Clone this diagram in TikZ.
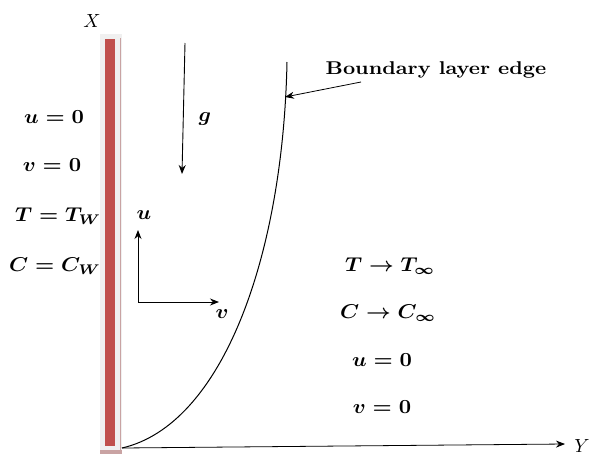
\documentclass[tikz,border=0pt]{standalone}
\usepackage{amsmath,graphicx}
\usetikzlibrary{arrows.meta}
\definecolor{wallred}{HTML}{C0504D}
\definecolor{wallgray}{HTML}{F0F0F0}
\definecolor{wallpink}{HTML}{C9A3A3}
\newcommand\mylbl[1]{\scalebox{2.15}[2.0]{\boldmath$#1$}}
\tikzset{
  lbl/.style={inner sep=0pt},
  arr/.style={-{Stealth[length=9pt,width=7pt]}, line width=0.9pt},
  curvel/.style={line width=1pt},
}
\begin{document}
\begin{tikzpicture}[x=1pt,y=-1pt]
\useasboundingbox (0,0) rectangle (614,456);
% wall
\fill[wallgray] (100,34) rectangle (122,450);
\fill[wallred] (105,39) rectangle (115,446);
\draw[wallpink, line width=1pt] (120,38) -- (120,450);
\fill[wallpink] (100,450) rectangle (122,454);
\node[lbl] (X) at (92,21) {\scalebox{1.9}{$X$}};
% coordinates
\coordinate (O) at (122,448);
\coordinate (Yend) at (565,444);
\coordinate (top) at (287,62);
\coordinate (g1) at (185,43);
\coordinate (g2) at (182,174);
\coordinate (utip) at (138,230);
\coordinate (vtip) at (219,302);
\coordinate (bl1) at (361,82);
\coordinate (bl2) at (285,97);
% axes and curve
\draw[arr, line width=0.8pt] (O) -- (Yend);
\node[lbl] (Y) at (582,446) {\scalebox{1.9}{$Y$}};
\draw[curvel] (O) .. controls (222,425) and (283,258) .. (top);
\draw[arr] (g1) -- (g2);
\node[lbl] (g) at (205,119) {\mylbl{g}};
\draw[{Stealth[length=9pt,width=7pt]}-{Stealth[length=9pt,width=7pt]}, line width=0.9pt] (utip) |- (vtip);
\node[lbl] (ul) at (144,215) {\mylbl{u}};
\node[lbl] (vl) at (222,314) {\mylbl{v}};
\node[lbl] (BL) at (436,70) {\scalebox{2.12}[1.85]{\bfseries Boundary layer edge}};
\draw[arr, line width=0.8pt] (bl1) -- (bl2);
% left conditions
\node[lbl] (l1) at (54,117) {\mylbl{u=0}};
\node[lbl] (l2) at (52,165) {\mylbl{v=0}};
\node[lbl] (l3) at (58,216) {\mylbl{T=T_W}};
\node[lbl] (l4) at (55,266) {\mylbl{C=C_W}};
% right conditions
\node[lbl] (r1) at (390,266) {\mylbl{T\to T_\infty}};
\node[lbl] (r2) at (388,313) {\mylbl{C\to C_\infty}};
\node[lbl] (r3) at (382,360) {\mylbl{u=0}};
\node[lbl] (r4) at (382,407) {\mylbl{v=0}};
\end{tikzpicture}
\end{document}
